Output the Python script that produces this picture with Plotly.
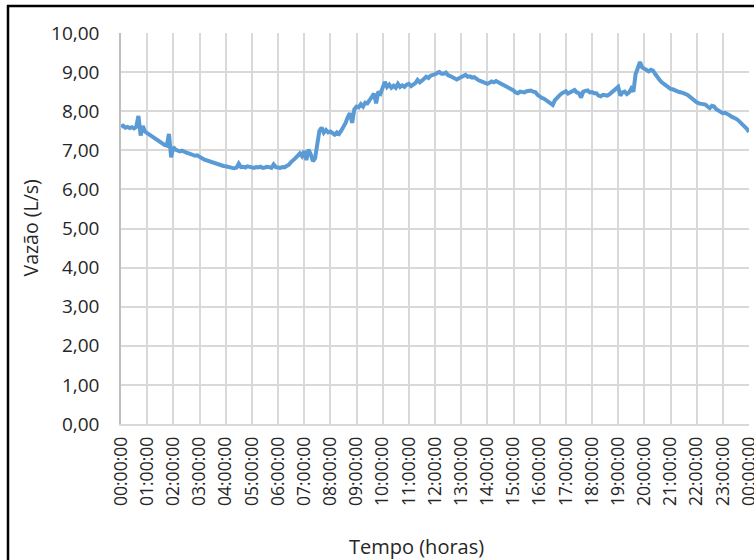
import plotly.graph_objects as go

# Flow (L/s) read every 5 minutes, one row per hour, plus the final 24:00 value
hour_rows = [
    [7.60,7.63,7.58,7.60,7.57,7.59,7.56,7.60,7.88,7.38,7.62,7.48],
    [7.44,7.40,7.37,7.33,7.30,7.27,7.22,7.19,7.14,7.12,7.42,6.82],
    [7.08,7.02,7.00,6.97,6.99,6.95,6.94,6.92,6.90,6.89,6.86,6.87],
    [6.82,6.80,6.77,6.75,6.72,6.71,6.68,6.67,6.65,6.64,6.62,6.60],
    [6.59,6.57,6.56,6.55,6.54,6.56,6.66,6.57,6.58,6.56,6.59,6.57],
    [6.57,6.55,6.57,6.56,6.58,6.55,6.56,6.58,6.57,6.55,6.64,6.57],
    [6.56,6.55,6.57,6.56,6.60,6.63,6.70,6.74,6.80,6.86,6.92,6.85],
    [6.98,6.75,7.02,6.90,6.72,6.80,7.15,7.50,7.58,7.45,7.52,7.46],
    [7.48,7.44,7.40,7.46,7.42,7.50,7.58,7.70,7.85,7.95,7.70,8.05],
    [8.12,8.10,8.18,8.12,8.22,8.20,8.28,8.35,8.45,8.20,8.50,8.45],
    [8.62,8.75,8.62,8.68,8.60,8.65,8.60,8.70,8.62,8.66,8.62,8.68],
    [8.70,8.64,8.68,8.72,8.80,8.74,8.78,8.84,8.88,8.85,8.91,8.93],
    [8.94,8.98,9.00,8.96,8.96,8.99,8.92,8.90,8.87,8.84,8.81,8.84],
    [8.86,8.90,8.93,8.88,8.89,8.86,8.87,8.82,8.79,8.77,8.75,8.72],
    [8.70,8.73,8.76,8.74,8.77,8.74,8.71,8.69,8.66,8.62,8.60,8.56],
    [8.53,8.48,8.46,8.50,8.50,8.48,8.51,8.53,8.53,8.50,8.49,8.42],
    [8.37,8.34,8.32,8.28,8.26,8.20,8.16,8.28,8.36,8.40,8.45,8.48],
    [8.51,8.45,8.49,8.52,8.54,8.48,8.46,8.35,8.50,8.52,8.53,8.48],
    [8.49,8.46,8.46,8.40,8.38,8.42,8.42,8.40,8.43,8.48,8.54,8.58],
    [8.62,8.40,8.48,8.50,8.44,8.48,8.58,8.50,8.95,9.10,9.26,9.12],
    [9.08,9.05,9.02,9.06,9.04,8.95,8.86,8.80,8.74,8.70,8.63,8.60],
    [8.57,8.56,8.53,8.50,8.49,8.48,8.47,8.44,8.41,8.36,8.32,8.27],
    [8.23,8.20,8.19,8.16,8.17,8.12,8.08,8.14,8.12,8.05,8.02,7.98],
    [7.95,7.96,7.94,7.90,7.86,7.84,7.81,7.77,7.72,7.68,7.60,7.55],
]
final_value = 7.47

hour_ticks = list(range(25))
hour_labels = ["00:00:00","01:00:00","02:00:00","03:00:00","04:00:00","05:00:00",
               "06:00:00","07:00:00","08:00:00","09:00:00","10:00:00","11:00:00",
               "12:00:00","13:00:00","14:00:00","15:00:00","16:00:00","17:00:00",
               "18:00:00","19:00:00","20:00:00","21:00:00","22:00:00","23:00:00",
               "00:00:00"]
y_ticks = [0,1,2,3,4,5,6,7,8,9,10]
y_labels = ["0,00","1,00","2,00","3,00","4,00","5,00","6,00","7,00","8,00","9,00","10,00"]

vazao = [v for row in hour_rows for v in row] + [final_value]
x_hours = [i * 5 / 60 for i in range(len(vazao))]

FONT = "Open Sans"
TXT = "#262626"
fig = go.Figure()
fig.add_trace(go.Scatter(x=x_hours, y=vazao, mode="lines",
                         line=dict(color="#5b9bd5", width=4), hoverinfo="skip"))

fig.update_layout(
    width=754, height=560,
    margin=dict(l=121, r=5, t=33, b=136, autoexpand=False),
    paper_bgcolor="white", plot_bgcolor="white",
    showlegend=False,
    font=dict(family=FONT, color=TXT),
    xaxis=dict(range=[0, 24], tickvals=hour_ticks, ticktext=hour_labels,
               tickangle=-90, showgrid=True, gridcolor="#d9d9d9", gridwidth=1.5,
               showline=True, linecolor="#d9d9d9", linewidth=1.5, zeroline=False,
               ticks="", ticklabelstandoff=4, ticklabeloverflow="allow", automargin=False,
               tickfont=dict(family=FONT, size=17.5, color=TXT)),
    yaxis=dict(range=[0, 10], tickvals=y_ticks, ticktext=y_labels,
               showgrid=True, gridcolor="#d9d9d9", gridwidth=1.5,
               showline=True, linecolor="#bfbfbf", linewidth=1.5, zeroline=False,
               ticks="", ticklabelstandoff=16, ticklabeloverflow="allow", automargin=False,
               tickfont=dict(family=FONT, size=19, color=TXT)),
    annotations=[
        dict(text="Vazão (L/s)", xref="paper", yref="paper",
             x=(30 - 121) / 628, y=0.5, textangle=-90, showarrow=False,
             xanchor="center", yanchor="middle",
             font=dict(family=FONT, size=19.5, color=TXT)),
        dict(text="Tempo (horas)", xref="paper", yref="paper",
             x=(416 - 121) / 628, y=-(546 - 424) / 391, showarrow=False,
             xanchor="center", yanchor="middle",
             font=dict(family=FONT, size=20, color=TXT)),
    ],
    shapes=[
        dict(type="line", xref="paper", yref="paper",
             x0=(8 - 121) / 628, x1=(8 - 121) / 628,
             y0=-(600 - 424) / 391, y1=1 + (33 - 5) / 391,
             line=dict(color="black", width=2.5)),
        dict(type="line", xref="paper", yref="paper",
             x0=(7 - 121) / 628, x1=(800 - 121) / 628,
             y0=1 + (33 - 6) / 391, y1=1 + (33 - 6) / 391,
             line=dict(color="black", width=2.5)),
    ],
)

fig.write_html("out.html")
